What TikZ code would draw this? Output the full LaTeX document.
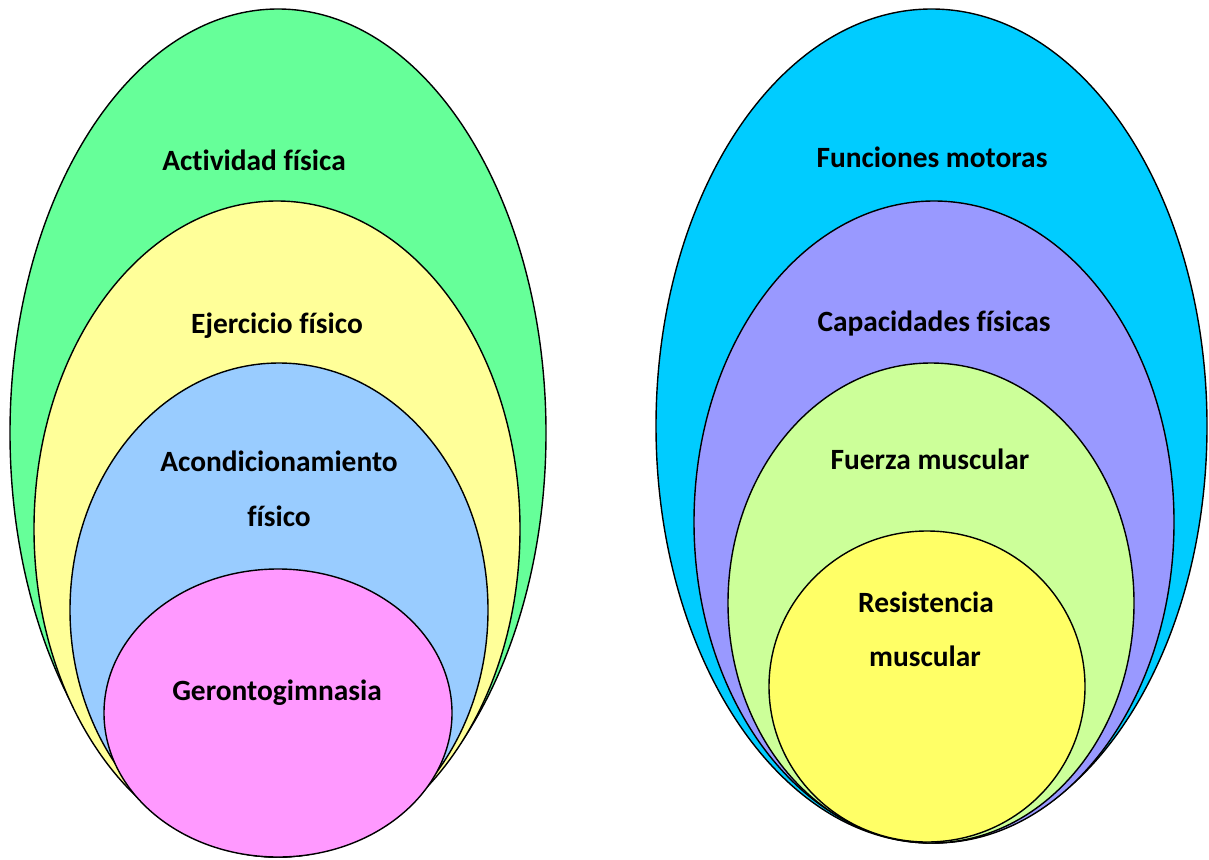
\documentclass[tikz,border=0pt]{standalone}
\usepackage{fontspec}
\setmainfont[Ligatures=NoCommon]{Carlito}
\definecolor{cGreen}{HTML}{66FF99}
\definecolor{cYellowA}{HTML}{FFFF99}
\definecolor{cBlue}{HTML}{99CCFF}
\definecolor{cPink}{HTML}{FF99FF}
\definecolor{cCyan}{HTML}{00CCFF}
\definecolor{cPurple}{HTML}{9999FF}
\definecolor{cLime}{HTML}{CCFF99}
\definecolor{cYellowB}{HTML}{FFFF66}
\tikzset{
  ring/.style={draw=black, line width=1.4pt},
  lbl/.style={font=\fontsize{29.4}{31}\selectfont\bfseries, text=black, inner sep=0pt, anchor=base}
}
\begin{document}
\begin{tikzpicture}[x=1pt,y=-1pt]
\useasboundingbox (0,0) rectangle (1209,859);
% left set
\draw[ring, fill=cGreen]   (278,433) ellipse [x radius=268pt, y radius=424pt];
\draw[ring, fill=cYellowA] (277,529) ellipse [x radius=243pt, y radius=328pt];
\draw[ring, fill=cBlue]    (279,610) ellipse [x radius=209pt, y radius=247pt];
\draw[ring, fill=cPink]    (278,713) ellipse [x radius=174pt, y radius=144pt];
% right set
\draw[ring, fill=cCyan]    (931.5,426) ellipse [x radius=275.5pt, y radius=417pt];
\draw[ring, fill=cPurple]  (934,522) ellipse [x radius=240pt, y radius=321pt];
\draw[ring, fill=cLime]    (931,603) ellipse [x radius=203pt, y radius=240pt];
\draw[ring, fill=cYellowB] (927,686.5) ellipse [x radius=158pt, y radius=155.5pt];
% labels
\node[lbl] (af) at (254,170) {Actividad física};
\node[lbl] (ef) at (277,333) {Ejercicio físico};
\node[lbl] (ac1) at (279,471) {Acondicionamiento};
\node[lbl] (ac2) at (279,526) {físico};
\node[lbl] (ge) at (277,700) {Gerontogimnasia};
\node[lbl] (fm) at (932,167) {Funciones motoras};
\node[lbl] (cf) at (934,331) {Capacidades físicas};
\node[lbl] (fu) at (930,469) {Fuerza muscular};
\node[lbl] (re1) at (926,612) {Resistencia};
\node[lbl] (re2) at (925,666) {muscular};
\end{tikzpicture}
\end{document}
